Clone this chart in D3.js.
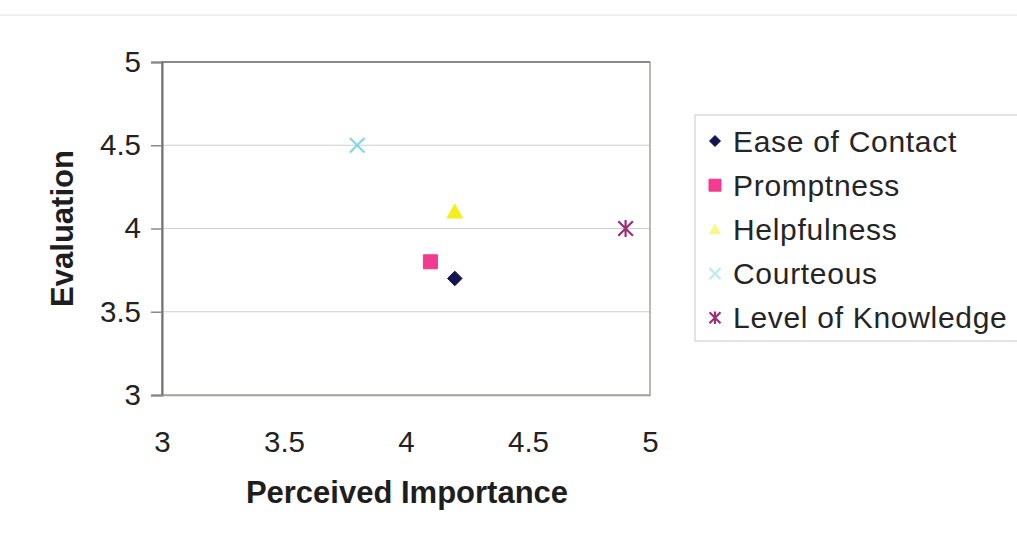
<!DOCTYPE html>
<html>
<head>
<meta charset="utf-8">
<script src="https://cdn.jsdelivr.net/npm/d3@7"></script>
<style>
  html, body { margin: 0; padding: 0; background: #fff; }
  svg { display: block; font-family: "Liberation Sans", Arial, sans-serif; }
</style>
</head>
<body>
<svg id="chart" width="1017" height="537"></svg>
<script>
// Service attributes: perceived importance vs. evaluation
const categories = ["Ease of Contact", "Promptness", "Helpfulness", "Courteous", "Level of Knowledge"];
const importance = [4.2, 4.1, 4.2, 3.8, 4.9];
const evaluation = [3.7, 3.8, 4.1, 4.5, 4.0];
const xTicks = [3, 3.5, 4, 4.5, 5];
const yTicks = [3, 3.5, 4, 4.5, 5];
const colors = ["#14144f", "#f23a8e", "#f4ef1c", "#86d4ec", "#9a2f78"];
const shapes = ["diamond", "square", "triangle", "x", "star"];

const svg = d3.select("#chart");
const plot = { left: 162, top: 62, right: 650, bottom: 395 };

const x = d3.scaleLinear().domain([3, 5]).range([plot.left, plot.right]);
const y = d3.scaleLinear().domain([3, 5]).range([plot.bottom, plot.top]);

// faint frame line across the top of the chart area
svg.append("line").attr("x1", 0).attr("x2", 1017).attr("y1", 15).attr("y2", 15)
  .attr("stroke", "#f0f0f0").attr("stroke-width", 2);

// horizontal gridlines
svg.append("g").selectAll("line").data(yTicks.filter(d => d > 3 && d < 5)).join("line")
  .attr("x1", plot.left).attr("x2", plot.right)
  .attr("y1", d => y(d)).attr("y2", d => y(d))
  .attr("stroke", "#cfcfcf").attr("stroke-width", 1.2);

// plot area border
svg.append("rect")
  .attr("x", plot.left).attr("y", plot.top)
  .attr("width", plot.right - plot.left).attr("height", plot.bottom - plot.top)
  .attr("fill", "none").attr("stroke", "#a0a49a").attr("stroke-width", 1.5);
svg.append("line").attr("x1", plot.left).attr("x2", plot.right)
  .attr("y1", plot.top).attr("y2", plot.top)
  .attr("stroke", "#8a8a8a").attr("stroke-width", 2);

// y axis
const yAxis = d3.axisLeft(y).tickValues(yTicks).tickSize(11).tickPadding(10).tickFormat(d3.format("~g"));
const gy = svg.append("g").attr("transform", `translate(${plot.left},0)`).call(yAxis);
gy.select(".domain").attr("stroke", "#707070").attr("stroke-width", 2);
gy.selectAll(".tick line").attr("stroke", "#8a8a8a").attr("stroke-width", 1.5);
gy.selectAll(".tick text").attr("font-size", 29.5).attr("fill", "#222")
  .attr("font-family", "'Liberation Sans', Arial, sans-serif");

// x axis
const xAxis = d3.axisBottom(x).tickValues(xTicks).tickSize(0).tickPadding(36).tickFormat(d3.format("~g"));
const gx = svg.append("g").attr("transform", `translate(0,${plot.bottom})`).call(xAxis);
gx.select(".domain").attr("stroke", "#a0a49a").attr("stroke-width", 1.5);
gx.selectAll(".tick text").attr("font-size", 29.5).attr("fill", "#222")
  .attr("font-family", "'Liberation Sans', Arial, sans-serif");

// axis titles
svg.append("text").attr("x", 407).attr("y", 503)
  .attr("text-anchor", "middle").attr("font-size", 31).attr("font-weight", "bold")
  .attr("fill", "#1e1e1e").text("Perceived Importance");
svg.append("text")
  .attr("transform", `translate(73,${(plot.top + plot.bottom) / 2}) rotate(-90)`)
  .attr("text-anchor", "middle").attr("font-size", 31).attr("font-weight", "bold")
  .attr("fill", "#1e1e1e").text("Evaluation");

// marker paths
function markerPath(shape, s) {
  switch (shape) {
    case "diamond": return `M0,${-s}L${s},0L0,${s}L${-s},0Z`;
    case "square": return `M${-s},${-s}H${s}V${s}H${-s}Z`;
    case "triangle": return `M0,${-s}L${s},${s * 0.8}L${-s},${s * 0.8}Z`;
    case "x": return `M${-s},${-s}L${s},${s}M${s},${-s}L${-s},${s}`;
    case "star": return `M${-s},${-s}L${s},${s}M${s},${-s}L${-s},${s}M0,${-s * 1.15}V${s * 1.15}`;
  }
}
function drawMarker(g, i, s) {
  const open = shapes[i] === "x" || shapes[i] === "star";
  g.append("path").attr("d", markerPath(shapes[i], s))
    .attr("fill", open ? "none" : colors[i])
    .attr("stroke", colors[i])
    .attr("stroke-width", open ? 2.2 : 1)
    .attr("stroke-linejoin", "round");
}

// data points
const pts = svg.append("g");
categories.forEach((c, i) => {
  const g = pts.append("g").attr("transform", `translate(${x(importance[i])},${y(evaluation[i])})`);
  const size = shapes[i] === "square" ? 7 : shapes[i] === "triangle" ? 7.8 : 7.3;
  drawMarker(g, i, size);
});

// legend
const legend = svg.append("g");
legend.append("rect").attr("x", 695).attr("y", 115).attr("width", 330).attr("height", 226)
  .attr("fill", "#fff").attr("stroke", "#dadada").attr("stroke-width", 1.5);
categories.forEach((c, i) => {
  const cy = 141 + i * 44.2;
  const g = legend.append("g").attr("transform", `translate(715,${cy})`);
  const faded = i === 2 || i === 3;
  g.attr("opacity", faded ? 0.5 : 1);
  drawMarker(g, i, shapes[i] === "square" ? 6 : 5.5);
  legend.append("text").attr("x", 733).attr("y", cy + 10.5)
    .attr("font-size", 30).attr("letter-spacing", 0.7)
    .attr("fill", "#252525").text(c);
});
</script>
</body>
</html>
